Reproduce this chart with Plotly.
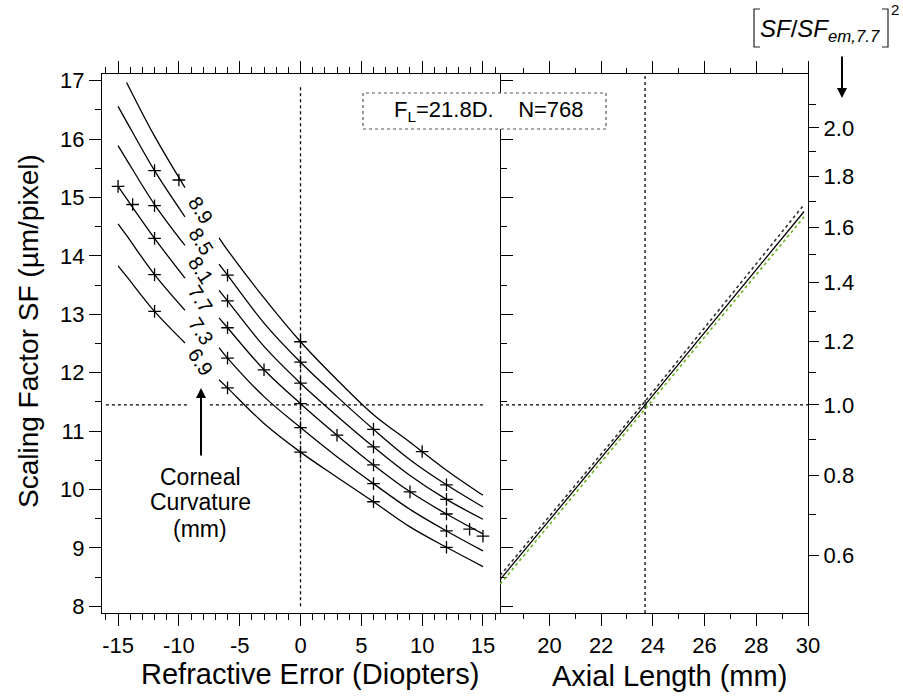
import math
import plotly.graph_objects as go

# ---------------- data ----------------
K_LABELS = ["8.9", "8.5", "8.1", "7.7", "7.3", "6.9"]

RE_LEFT = [-15, -14.3, -12, -9.5]
SF_LEFT_89 = [None, 16.97, 16.05, 15.17]
SF_LEFT_85 = [16.56, 16.30, 15.46, 14.67]
SF_LEFT_81 = [15.89, 15.65, 14.88, 14.18]
SF_LEFT_77 = [15.19, 14.98, 14.30, 13.62]
SF_LEFT_73 = [14.55, 14.35, 13.68, 13.07]
SF_LEFT_69 = [13.83, 13.65, 13.05, 12.51]

RE_RIGHT = [-6.7, -6, -3, 0, 3, 6, 9, 12, 15]
SF_RIGHT_89 = [14.31, 14.10, 13.28, 12.53, 11.88, 11.28, 10.81, 10.33, 9.90]
SF_RIGHT_85 = [13.86, 13.67, 12.85, 12.18, 11.59, 11.03, 10.51, 10.08, 9.70]
SF_RIGHT_81 = [13.41, 13.23, 12.45, 11.82, 11.26, 10.73, 10.24, 9.83, 9.49]
SF_RIGHT_77 = [12.94, 12.77, 12.05, 11.47, 10.93, 10.42, 9.96, 9.58, 9.24]
SF_RIGHT_73 = [12.43, 12.25, 11.59, 11.06, 10.56, 10.10, 9.66, 9.29, 8.95]
SF_RIGHT_69 = [11.88, 11.74, 11.13, 10.64, 10.21, 9.79, 9.36, 9.01, 8.68]

MARK_RE_89 = [-10, 0, 10]
MARK_SF_89 = [15.30, 12.53, 10.65]
MARK_RE_85 = [-12, -6, 0, 6, 12]
MARK_SF_85 = [15.46, 13.67, 12.18, 11.03, 10.08]
MARK_RE_81 = [-12, -6, 0, 6, 12]
MARK_SF_81 = [14.86, 13.23, 11.82, 10.73, 9.83]
MARK_RE_77 = [-15, -13.8, -12, -6, -3, 0, 3, 6, 9, 12, 13.9, 15]
MARK_SF_77 = [15.19, 14.88, 14.30, 12.77, 12.05, 11.47, 10.93, 10.42, 9.96, 9.58, 9.32, 9.20]
MARK_RE_73 = [-12, -6, 0, 6, 12]
MARK_SF_73 = [13.68, 12.25, 11.06, 10.10, 9.29]
MARK_RE_69 = [-12, -6, 0, 6, 12]
MARK_SF_69 = [13.05, 11.74, 10.64, 9.79, 9.01]

AL = [18.1, 23.7, 29.85]
SF_AL_SOLID = [8.46, 11.45, 14.76]
SF_AL_DOT = [8.53, 11.51, 14.88]
SF_AL_GREEN = [8.38, 11.38, 14.67]

SF_EM = 11.45      # SF_em,7.7 reference level
AL_EM = 23.7       # emmetropic axial length

RE_TICKS = [-15, -10, -5, 0, 5, 10, 15]
AL_TICKS = [20, 22, 24, 26, 28, 30]
SF_TICKS = [8, 9, 10, 11, 12, 13, 14, 15, 16, 17]
RATIO_MAJOR = [0.6, 0.8, 1.0, 1.2, 1.4, 1.6, 1.8, 2.0]
RATIO_MINOR = [0.7, 0.9, 1.1, 1.3, 1.5, 1.7, 1.9, 2.1]

# ---------------- layout helpers ----------------
W, H = 903, 698
FONT = "Liberation Sans, Arial, Helvetica, sans-serif"


def px(x):
    return x / W


def py(y):
    return 1 - y / H


left_curves = [SF_LEFT_89, SF_LEFT_85, SF_LEFT_81, SF_LEFT_77, SF_LEFT_73, SF_LEFT_69]
right_curves = [SF_RIGHT_89, SF_RIGHT_85, SF_RIGHT_81, SF_RIGHT_77, SF_RIGHT_73, SF_RIGHT_69]
marks = [(MARK_RE_89, MARK_SF_89), (MARK_RE_85, MARK_SF_85), (MARK_RE_81, MARK_SF_81),
         (MARK_RE_77, MARK_SF_77), (MARK_RE_73, MARK_SF_73), (MARK_RE_69, MARK_SF_69)]

fig = go.Figure()
line_style = dict(color="black", width=1.3, shape="spline", smoothing=1.0)
for lab, sl, sr, (mx, my) in zip(K_LABELS, left_curves, right_curves, marks):
    fig.add_trace(go.Scatter(x=RE_LEFT, y=sl, mode="lines", line=line_style,
                             connectgaps=False, name=lab, showlegend=False,
                             xaxis="x", yaxis="y"))
    fig.add_trace(go.Scatter(x=RE_RIGHT, y=sr, mode="lines", line=line_style,
                             name=lab, showlegend=False, xaxis="x", yaxis="y"))
    fig.add_trace(go.Scatter(x=mx, y=my, mode="markers",
                             marker=dict(symbol="cross-thin", size=9,
                                         line=dict(width=1.3, color="black")),
                             showlegend=False, xaxis="x", yaxis="y"))

fig.add_trace(go.Scatter(x=AL, y=SF_AL_GREEN, mode="lines",
                         line=dict(color="#72b82a", width=1.7, dash="dot"),
                         showlegend=False, xaxis="x2", yaxis="y2"))
fig.add_trace(go.Scatter(x=AL, y=SF_AL_DOT, mode="lines",
                         line=dict(color="#333333", width=1.6, dash="dot"),
                         showlegend=False, xaxis="x2", yaxis="y2"))
fig.add_trace(go.Scatter(x=AL, y=SF_AL_SOLID, mode="lines",
                         line=dict(color="black", width=1.3),
                         showlegend=False, xaxis="x2", yaxis="y2"))

tickfont = dict(family=FONT, size=22, color="black")
common_ax = dict(showgrid=False, zeroline=False, showline=True, linecolor="black",
                 linewidth=1.3, ticks="outside", tickcolor="black", tickwidth=1.3,
                 tickfont=tickfont, automargin=False)

y_range = [7.885, 17.115]
fig.update_layout(
    width=W, height=H, autosize=False,
    margin=dict(l=0, r=0, t=0, b=0, pad=0, autoexpand=False),
    paper_bgcolor="white", plot_bgcolor="white",
    showlegend=False,
    xaxis=dict(domain=[px(102), px(500)], range=[-16.32, 16.40], anchor="y",
               tickmode="array", tickvals=RE_TICKS, ticktext=[str(v) for v in RE_TICKS],
               ticklen=12, mirror="ticks",
               minor=dict(dtick=1, tick0=0, ticklen=6, ticks="outside",
                          tickcolor="black", tickwidth=1.2),
               **common_ax),
    yaxis=dict(domain=[py(613), py(74)], range=y_range, anchor="x",
               tickmode="array", tickvals=SF_TICKS, ticktext=[str(v) for v in SF_TICKS],
               ticklen=12, mirror="ticks",
               minor=dict(dtick=0.5, tick0=0, ticklen=6, ticks="outside",
                          tickcolor="black", tickwidth=1.2),
               **common_ax),
    xaxis2=dict(domain=[px(500), px(808)], range=[18.09, 30], anchor="y2",
                tickmode="array", tickvals=AL_TICKS, ticktext=[str(v) for v in AL_TICKS],
                ticklen=12, mirror="ticks",
                minor=dict(dtick=1, tick0=0, ticklen=5, ticks="outside",
                           tickcolor="black", tickwidth=1.2),
                **common_ax),
    yaxis2=dict(domain=[py(613), py(74)], range=y_range, anchor="x2", side="right",
                tickmode="array",
                tickvals=[SF_EM * math.sqrt(v) for v in RATIO_MAJOR],
                ticktext=["%.1f" % v for v in RATIO_MAJOR],
                ticklen=10,
                minor=dict(tickmode="array",
                           tickvals=[SF_EM * math.sqrt(v) for v in RATIO_MINOR],
                           ticklen=7, ticks="outside", tickcolor="black", tickwidth=1.2),
                **common_ax),
)

dot = dict(color="black", width=1.3, dash="dot")
thin = dict(color="#222222", width=1.2)
shapes = [
    dict(type="line", xref="x", yref="y", x0=0, x1=0, y0=8.0, y1=16.9, line=dot),
    dict(type="line", xref="x", yref="y", x0=-16.0, x1=-9.1, y0=SF_EM, y1=SF_EM, line=dot),
    dict(type="line", xref="x", yref="y", x0=-7.45, x1=15, y0=SF_EM, y1=SF_EM, line=dot),
    dict(type="line", xref="x2", yref="y2", x0=AL_EM, x1=AL_EM, y0=y_range[0], y1=y_range[1], line=dot),
    dict(type="line", xref="x2", yref="y2", x0=18.09, x1=30, y0=SF_EM, y1=SF_EM, line=dot),
    dict(type="rect", xref="paper", yref="paper", x0=px(363), x1=px(606),
         y0=py(129), y1=py(93), fillcolor="white",
         line=dict(color="#555555", width=1.2, dash="dot"), layer="above"),
    # thin square brackets of the [SF/SF_em,7.7]^2 label
    dict(type="path", xref="paper", yref="paper",
         path="M %f %f L %f %f L %f %f L %f %f" % (px(760), py(9), px(754), py(9),
                                                    px(754), py(47), px(760), py(47)),
         line=thin),
    dict(type="path", xref="paper", yref="paper",
         path="M %f %f L %f %f L %f %f L %f %f" % (px(882), py(9), px(888), py(9),
                                                    px(888), py(47), px(882), py(47)),
         line=thin),
]
fig.update_layout(shapes=shapes)

ann = []
# curve labels
label_sf = [14.79, 14.25, 13.76, 13.27, 12.71, 12.19]
for lab, ys in zip(K_LABELS, label_sf):
    ann.append(dict(x=-8.2, y=ys, xref="x", yref="y", text=lab, showarrow=False,
                    textangle=57, font=dict(family=FONT, size=20, color="black")))

# Corneal curvature text & arrow
for txt, yy in zip(["Corneal", "Curvature", "(mm)"], [477, 502, 529]):
    ann.append(dict(x=px(200), y=py(yy), xref="paper", yref="paper", text=txt,
                    showarrow=False, xanchor="center", yanchor="middle",
                    font=dict(family=FONT, size=23, color="black")))
ann.append(dict(x=px(201), y=py(388), xref="paper", yref="paper", text="",
                showarrow=True, ax=0, ay=69, arrowhead=2, arrowsize=1,
                arrowwidth=2, arrowcolor="black"))

# top right formula and arrow
ann.append(dict(x=px(820), y=py(30), xref="paper", yref="paper",
                text="<i>SF</i>/<i>SF<sub>em,7.7</sub></i>",
                showarrow=False, xanchor="center", yanchor="middle",
                font=dict(family=FONT, size=24, color="black")))
ann.append(dict(x=px(895), y=py(10), xref="paper", yref="paper", text="2",
                showarrow=False, xanchor="center", yanchor="middle",
                font=dict(family=FONT, size=15, color="black")))
ann.append(dict(x=px(842), y=py(98), xref="paper", yref="paper", text="",
                showarrow=True, ax=0, ay=-43, arrowhead=2, arrowsize=1,
                arrowwidth=2, arrowcolor="black"))

# box text
ann.append(dict(x=px(489), y=py(111), xref="paper", yref="paper",
                text="F<sub>L</sub>=21.8D.\u00a0\u00a0\u00a0\u00a0N=768",
                showarrow=False, xanchor="center", yanchor="middle",
                font=dict(family=FONT, size=22, color="black")))

# axis titles
ann.append(dict(x=px(28), y=py(331), xref="paper", yref="paper",
                text="Scaling Factor SF (µm/pixel)", textangle=-90, showarrow=False,
                xanchor="center", yanchor="middle",
                font=dict(family=FONT, size=28, color="black")))
ann.append(dict(x=px(310), y=py(674), xref="paper", yref="paper",
                text="Refractive Error (Diopters)", showarrow=False,
                xanchor="center", yanchor="middle",
                font=dict(family=FONT, size=29, color="black")))
ann.append(dict(x=px(669), y=py(676), xref="paper", yref="paper",
                text="Axial Length (mm)", showarrow=False,
                xanchor="center", yanchor="middle",
                font=dict(family=FONT, size=29, color="black")))

fig.update_layout(annotations=ann)

fig.write_html("out.html", config={"displayModeBar": False, "responsive": False},
               post_script="document.body.style.margin='0px';"
                           "document.body.style.overflow='hidden';"
                           "document.documentElement.style.overflow='hidden';")
